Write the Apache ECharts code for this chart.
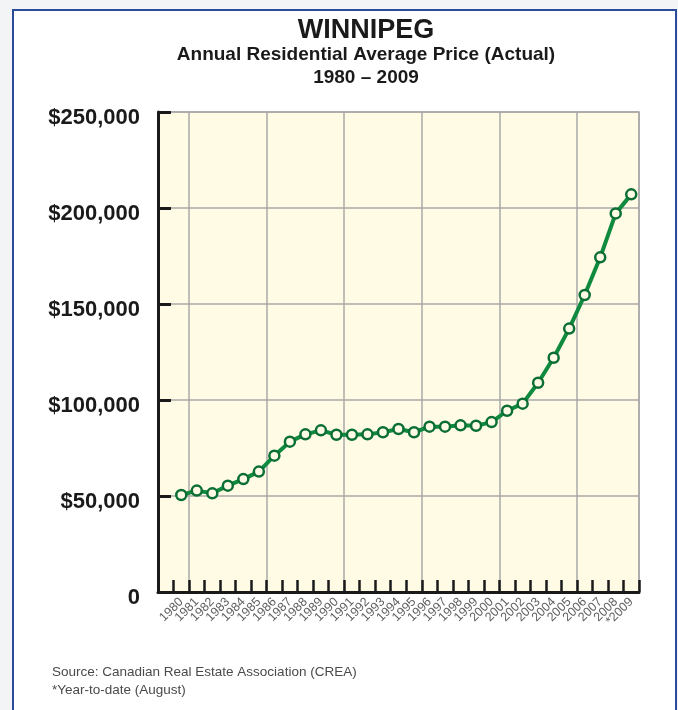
<!DOCTYPE html>
<html>
<head>
<meta charset="utf-8">
<script src="https://cdn.jsdelivr.net/npm/echarts@6/dist/echarts.min.js"></script>
<style>
  html, body { margin: 0; padding: 0; background: #f3f4f6; }
  #frame {
    position: absolute; left: 12px; top: 9px; width: 665px; height: 730px;
    box-sizing: border-box; border: 2.5px solid #2b4c9b; border-bottom: none; background: #ffffff;
  }
  #chart { position: absolute; left: 0; top: 0; width: 678px; height: 710px; }
</style>
</head>
<body>
<div id="frame"></div>
<div id="chart"></div>
<script>
// Winnipeg annual residential average price, 1980-2009 (2009 is year-to-date)
const years = ['1980', '1981', '1982', '1983', '1984', '1985', '1986', '1987', '1988', '1989',
               '1990', '1991', '1992', '1993', '1994', '1995', '1996', '1997', '1998', '1999',
               '2000', '2001', '2002', '2003', '2004', '2005', '2006', '2007', '2008', '*2009'];
const prices = [50500, 52800, 51400, 55400, 58800, 62700, 71000, 78300, 82100, 84200,
                81900, 81900, 82100, 83200, 84900, 83200, 86100, 86100, 86800, 86600,
                88500, 94400, 98100, 109000, 122000, 137200, 154700, 174300, 197200, 207100];
const yTicks = { min: 0, max: 250000, step: 50000 };

// The axis keeps one empty slot before 1980
const axisCats = [''].concat(years);
const axisVals = [null].concat(prices);

const FONT = '"Liberation Sans", Arial, sans-serif';
const INK = '#1a1a1a';
const GRID = '#a9a9a9';

const chart = echarts.init(document.getElementById('chart'), null, { renderer: 'canvas' });
chart.setOption({
  animation: false,
  backgroundColor: 'transparent',
  textStyle: { fontFamily: FONT },
  grid: {
    left: 158, right: 39, top: 112, bottom: 118,
    show: true, backgroundColor: '#fffbe4', borderColor: GRID, borderWidth: 1.5
  },
  xAxis: {
    type: 'category',
    data: axisCats,
    boundaryGap: true,
    axisLine: { show: true, lineStyle: { color: INK, width: 3 } },
    axisTick: { show: true, inside: true, length: 12, interval: 0, lineStyle: { color: INK, width: 2.5 } },
    axisLabel: { interval: 0, rotate: 45, fontSize: 12.5, color: '#606060', margin: 8, fontFamily: FONT, hideOverlap: false },
    splitLine: { show: true, interval: function (i) { return i % 5 === 2; }, lineStyle: { color: GRID, width: 1.5 } }
  },
  yAxis: {
    type: 'value',
    min: yTicks.min, max: yTicks.max, interval: yTicks.step,
    axisLine: { show: true, lineStyle: { color: INK, width: 3 } },
    axisTick: { show: true, inside: true, length: 13, lineStyle: { color: INK, width: 3 } },
    splitLine: { show: true, lineStyle: { color: GRID, width: 1.5 } },
    axisLabel: {
      margin: 18,
      fontSize: 22, fontWeight: 'bold', color: INK, fontFamily: FONT,
      verticalAlign: 'top', lineHeight: 12,
      formatter: function (v) {
        return v === 0 ? '0' : '$' + v.toLocaleString('en-US');
      }
    }
  },
  series: [{
    type: 'line',
    data: axisVals,
    symbol: 'circle',
    symbolSize: 10,
    lineStyle: { color: '#0f8a3f', width: 4 },
    itemStyle: { color: '#fffbe4', borderColor: '#0b6e34', borderWidth: 2.5 }
  }],
  graphic: [
    { type: 'text', x: 366, y: 31, style: { text: 'WINNIPEG', font: 'bold 27px ' + FONT, fill: INK, textAlign: 'center', textVerticalAlign: 'middle' } },
    { type: 'text', x: 366, y: 55, style: { text: 'Annual Residential Average Price (Actual)', font: 'bold 19px ' + FONT, fill: INK, textAlign: 'center', textVerticalAlign: 'middle' } },
    { type: 'text', x: 366, y: 78, style: { text: '1980 \u2013 2009', font: 'bold 19px ' + FONT, fill: INK, textAlign: 'center', textVerticalAlign: 'middle' } },
    { type: 'text', x: 52, y: 672, style: { text: 'Source: Canadian Real Estate Association (CREA)', font: '13.5px ' + FONT, fill: '#4a4a4a', textAlign: 'left', textVerticalAlign: 'middle' } },
    { type: 'text', x: 52, y: 690, style: { text: '*Year-to-date (August)', font: '13.5px ' + FONT, fill: '#4a4a4a', textAlign: 'left', textVerticalAlign: 'middle' } }
  ]
});
</script>
</body>
</html>
